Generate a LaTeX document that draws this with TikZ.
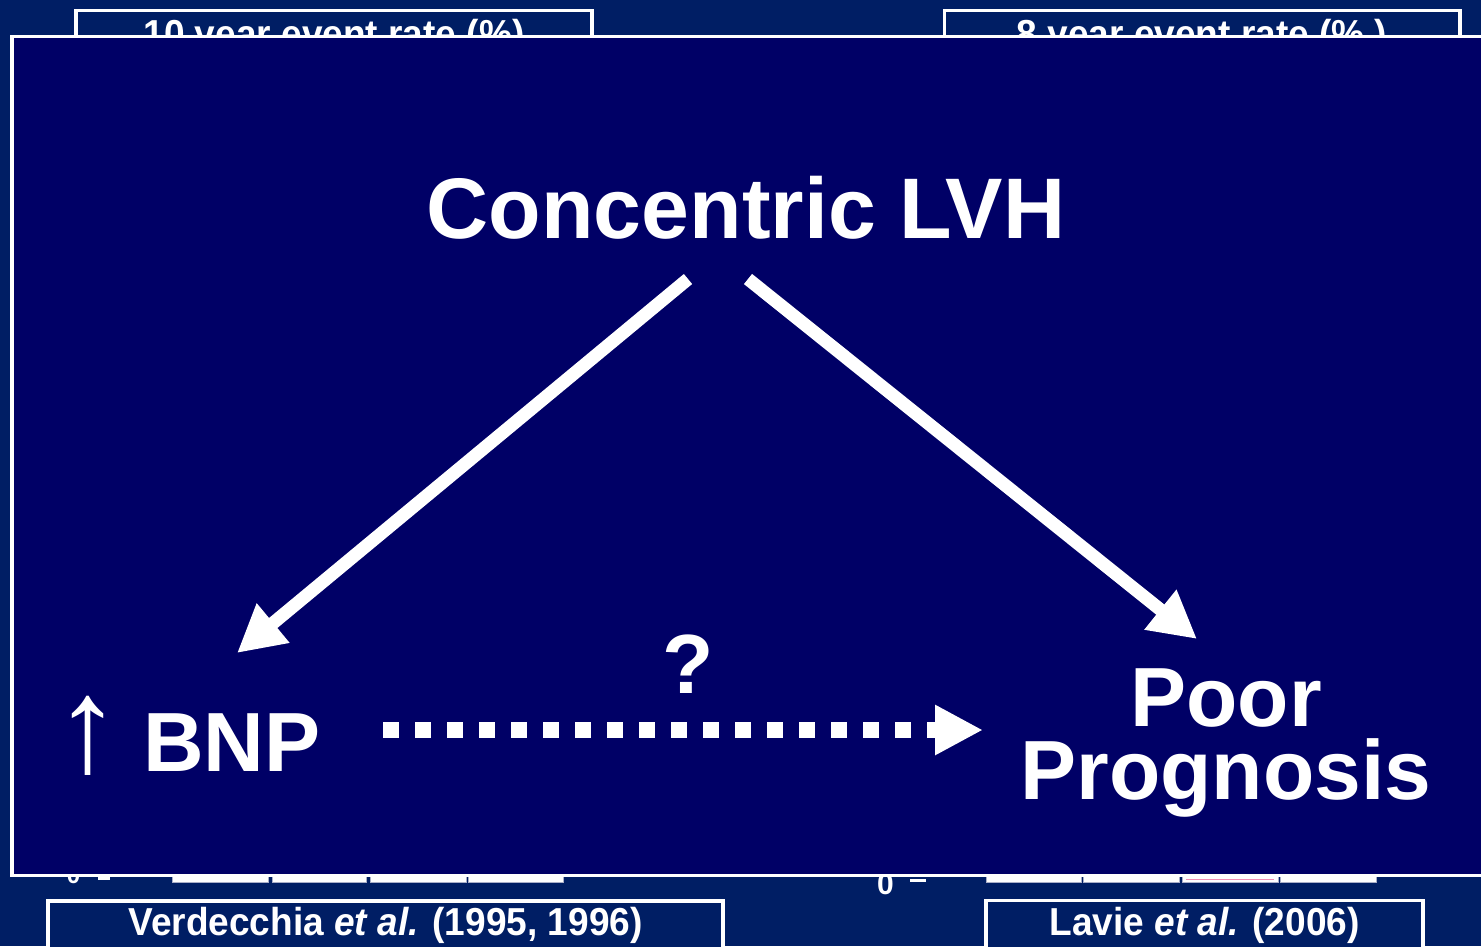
\documentclass[tikz,border=0pt]{standalone}
\usepackage{fontspec}
\setmainfont{Liberation Sans}
\usetikzlibrary{arrows.meta}
\definecolor{outerbg}{RGB}{0,30,100}
\definecolor{innerbg}{RGB}{0,0,102}
\definecolor{barline}{RGB}{170,175,200}
\definecolor{pinkline}{RGB}{240,140,180}
\begin{document}
\begin{tikzpicture}[x=1pt,y=-1pt,
  frame/.style={draw=white,line width=3.5pt,fill=outerbg},
  cite/.style={text=white,font=\fontsize{39}{45}\selectfont\bfseries,inner sep=0pt,anchor=base,xscale=0.95},
  big/.style={text=white,font=\fontsize{84}{73}\selectfont\bfseries,inner sep=0pt},
  bar/.style={fill=white,draw=barline,line width=0.8pt},
  axislabel/.style={text=white,inner sep=0pt,anchor=base},
  thick arrow/.style={draw=white,line width=13pt,-{Triangle[length=47pt,width=48pt]}},
  dot arrow/.style={draw=white,line width=16pt,dash pattern=on 16pt off 16pt,-{Triangle[length=48pt,width=47pt]}}]
\useasboundingbox (0,0) rectangle (1481,946);
\fill[outerbg] (0,0) rectangle (1481,946);
% partially hidden top boxes
\draw[frame] (76,10.5) rectangle (592,80);
\node[cite] (ttl) at (334,47) {10 year event rate (\%)};
\draw[frame] (944.5,10.5) rectangle (1460,80);
\node[cite] (ttr) at (1202,47) {8 year event rate (\% )};
% chart remnants peeking below the panel
\foreach \a/\b in {172/268,272/366,370/466,468/563,986/1081,1083/1179,1182/1278,1280/1376}
  \draw[bar] (\a,840) rectangle (\b,882);
\draw[pinkline,line width=1pt] (1186,879) -- (1274,879);
\node[axislabel,font=\fontsize{24}{28}\selectfont\bfseries] (zl) at (73.5,883) {0};
\node[axislabel,font=\fontsize{30}{34}\selectfont\bfseries] (zr) at (885.5,894.5) {0};
\draw[white,line width=3pt] (98,878.5) -- (110,878.5);
\draw[white,line width=3pt] (910,880.5) -- (926,880.5);
% main panel
\draw[draw=white,line width=3.5pt,fill=innerbg] (12,36.5) rectangle (1500,875.5);
% bottom citation boxes
\draw[frame] (48,901) rectangle (723,970);
\node[cite] (cl) at (385.5,935) {Verdecchia \textit{et al.} (1995, 1996)};
\draw[frame] (986,900.5) rectangle (1423,970);
\node[cite] (cr) at (1204.5,935) {Lavie \textit{et al.} (2006)};
% diagram
\node[big,anchor=base,font=\fontsize{86}{90}\selectfont\bfseries] (lvh) at (746,238) {Concentric LVH};
\node[big,anchor=base west] (bnp) at (54,771) {\makebox[89pt][l]{\fontsize{134}{134}\selectfont\mdseries ↑}BNP};
\node[big,anchor=north,align=center] (prog) at (1226,668) {Poor\\Prognosis};
\node[big,anchor=base] (q) at (688,693) {?};
\coordinate (lvhL) at (688,279);
\coordinate (lvhR) at (748,279);
\coordinate (bnpTip) at (237,653);
\coordinate (progTip) at (1197,639);
\coordinate (dotS) at (383,730);
\coordinate (dotE) at (983,730);
\draw[thick arrow] (lvhL) -- (bnpTip);
\draw[thick arrow] (lvhR) -- (progTip);
\draw[dot arrow] (dotS) -- (dotE);
\end{tikzpicture}
\end{document}
